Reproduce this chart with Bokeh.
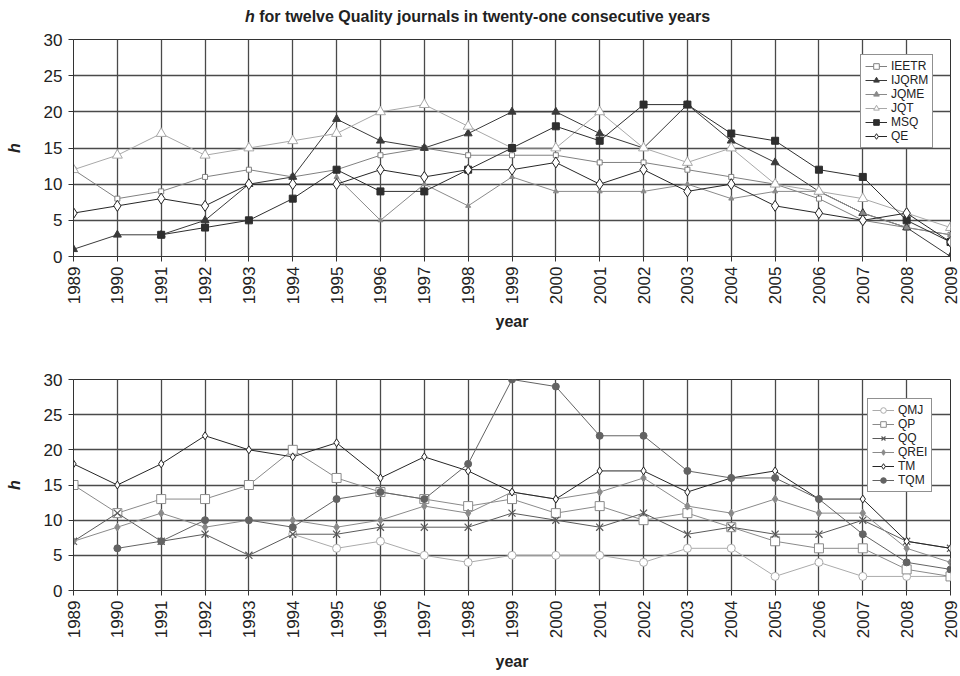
import math
import numpy as np
from bokeh.plotting import figure
from bokeh.models import FixedTicker, Range1d, Legend, LegendItem, Div
from bokeh.layouts import column
from bokeh.embed import file_html
from bokeh.resources import INLINE

NA = float("nan")
years = list(range(1989, 2010))
y_ticks = [0, 5, 10, 15, 20, 25, 30]

# ---- top panel ----
IEETR = [12, 8, 9, 11, 12, 11, 12, 14, 15, 14, 14, 14, 13, 13, 12, 11, 10, 8, 5, 4, 3]
IJQRM = [1, 3, 3, 5, 10, 11, 19, 16, 15, 17, 20, 20, 17, 15, 21, 16, 13, 9, 6, 4, 0]
JQME = [NA, NA, NA, NA, NA, NA, 11, 5, 10, 7, 11, 9, 9, 9, 10, 8, 9, 9, 6, 4, 3]
JQT = [12, 14, 17, 14, 15, 16, 17, 20, 21, 18, 15, 15, 20, 15, 13, 15, 10, 9, 8, 6, 4]
MSQ = [NA, NA, 3, 4, 5, 8, 12, 9, 9, 12, 15, 18, 16, 21, 21, 17, 16, 12, 11, 5, 2]
QE = [6, 7, 8, 7, 10, 10, 10, 12, 11, 12, 12, 13, 10, 12, 9, 10, 7, 6, 5, 6, 2]

# ---- bottom panel ----
QMJ = [NA, NA, NA, NA, NA, 8, 6, 7, 5, 4, 5, 5, 5, 4, 6, 6, 2, 4, 2, 2, 2]
QP = [15, 11, 13, 13, 15, 20, 16, 14, 13, 12, 13, 11, 12, 10, 11, 9, 7, 6, 6, 3, 2]
QQ = [7, 11, 7, 8, 5, 8, 8, 9, 9, 9, 11, 10, 9, 11, 8, 9, 8, 8, 10, 7, 6]
QREI = [7, 9, 11, 9, 10, 10, 9, 10, 12, 11, 14, 13, 14, 16, 12, 11, 13, 11, 11, 6, 4]
TM = [18, 15, 18, 22, 20, 19, 21, 16, 19, 17, 14, 13, 17, 17, 14, 16, 17, 13, 13, 7, 6]
TQM = [NA, 6, 7, 10, 10, 9, 13, 14, 13, 18, 30, 29, 22, 22, 17, 16, 16, 13, 8, 4, 3]

TITLE_H = "h"
TITLE_REST = " for twelve Quality journals in twenty-one consecutive years"
X_TITLE = "year"
Y_TITLE = "h"

FONT = "Liberation Sans"
FIG_W = 960

top_series = [
    ("IEETR", IEETR, "#808080", "square", 5, "white"),
    ("IJQRM", IJQRM, "#3a3a3a", "triangle", 8, "#3a3a3a"),
    ("JQME", JQME, "#8a8a8a", "triangle", 5, "#8a8a8a"),
    ("JQT", JQT, "#a8a8a8", "triangle", 10, "white"),
    ("MSQ", MSQ, "#2e2e2e", "square", 7, "#2e2e2e"),
    ("QE", QE, "#262626", "diamond", 11, "white"),
]
bottom_series = [
    ("QMJ", QMJ, "#ababab", "circle", 8, "white"),
    ("QP", QP, "#8a8a8a", "square", 9, "white"),
    ("QQ", QQ, "#5a5a5a", "x", 10, None),
    ("QREI", QREI, "#8a8a8a", "diamond", 8, "#8a8a8a"),
    ("TM", TM, "#262626", "diamond", 8, "white"),
    ("TQM", TQM, "#636363", "circle", 7, "#636363"),
]


def make_fig(frame_h, btop, bbottom, series, legend_loc, xlabel_standoff):
    p = figure(frame_width=877, frame_height=frame_h, output_backend="svg",
               toolbar_location=None,
               x_range=Range1d(1989, 2009), y_range=Range1d(0, 30),
               min_border_left=73, min_border_right=10,
               min_border_top=btop, min_border_bottom=bbottom)
    p.outline_line_color = "#333333"
    p.outline_line_width = 1
    p.background_fill_color = "white"
    p.border_fill_color = "white"

    p.xaxis.ticker = FixedTicker(ticks=years)
    p.yaxis.ticker = FixedTicker(ticks=y_ticks)
    for ax in (p.xaxis, p.yaxis):
        ax.axis_line_color = "#333333"
        ax.major_tick_line_color = "#333333"
        ax.major_tick_out = 5
        ax.major_tick_in = 0
        ax.minor_tick_line_color = None
        ax.major_label_text_font = FONT
        ax.major_label_text_font_size = "17px"
        ax.major_label_text_color = "#222222"
        ax.axis_label_text_font = FONT
        ax.axis_label_text_font_size = "16px"
        ax.axis_label_text_color = "#222222"
    p.xaxis.major_label_orientation = math.pi / 2
    p.xaxis.major_label_standoff = 5
    p.xaxis.axis_label = X_TITLE
    p.xaxis.axis_label_text_font_style = "bold"
    p.xaxis.axis_label_standoff = xlabel_standoff
    p.yaxis.axis_label = Y_TITLE
    p.yaxis.axis_label_text_font_style = "bold italic"
    p.yaxis.major_label_standoff = 6
    p.yaxis.axis_label_standoff = 18

    for g in (p.xgrid, p.ygrid):
        g.grid_line_color = "#4a4a4a"
        g.grid_line_width = 1.3

    items = []
    for name, vals, col, marker, size, fill in series:
        y = np.array(vals, dtype=float)
        lr = p.line(years, y, line_color=col, line_width=1)
        if marker == "x":
            sr = p.scatter(years, y, marker="x", size=size, line_color=col, line_width=1.2)
        else:
            sr = p.scatter(years, y, marker=marker, size=size, line_color=col,
                           fill_color=fill, line_width=1)
        items.append(LegendItem(label=name, renderers=[lr, sr]))

    leg = Legend(items=items, location=legend_loc)
    leg.border_line_color = "#222222"
    leg.border_line_width = 1
    leg.background_fill_color = "white"
    leg.background_fill_alpha = 1
    leg.label_text_font = FONT
    leg.label_text_font_size = "12px"
    leg.label_text_color = "#222222"
    leg.glyph_width = 22
    leg.glyph_height = 14
    leg.label_height = 14
    leg.label_standoff = 4
    leg.padding = 4
    leg.spacing = 0
    leg.margin = 0
    p.add_layout(leg)
    return p


title_html = (
    '<div style="padding-left:245px;padding-top:8px;font-family:\'Liberation Sans\',Arial,sans-serif;'
    'font-size:16px;font-weight:bold;line-height:18px;color:#222222;white-space:nowrap;">'
    '<i>' + TITLE_H + '</i>' + TITLE_REST + '</div>'
)
title_div = Div(text=title_html, width=FIG_W, height=29, margin=(0, 0, 0, 0))

p1 = make_fig(217, 10, 82, top_series, (787, 108), 6)
p2 = make_fig(211, 41, 86, bottom_series, (794, 98), 12)

layout = column(title_div, p1, p2, spacing=0)
open("out.html", "w").write(file_html(layout, INLINE))
